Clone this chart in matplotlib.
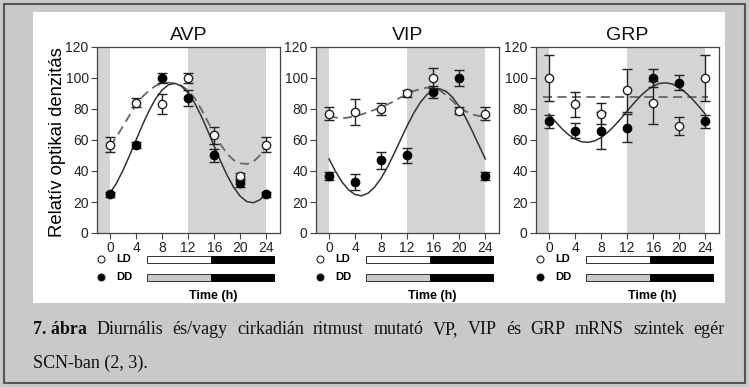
import matplotlib
matplotlib.use('Agg')
import matplotlib.pyplot as plt
from matplotlib.patches import Rectangle

# measured points (0-24 h), LD = open, DD = filled
hours = [0, 4, 8, 12, 16, 20, 24]
genes = ['AVP', 'VIP', 'GRP']

avp_ld = [57, 84, 83, 100, 63, 37, 57]
avp_ld_err = [5, 3, 6.5, 3, 5.5, 2, 5]
avp_dd = [25, 57, 100, 87, 50, 32, 25]
avp_dd_err = [1.5, 2, 3.5, 5, 4, 2.5, 1.5]

vip_ld = [77, 78, 80, 90, 100, 79, 77]
vip_ld_err = [4, 8.5, 4, 2, 6.5, 2.5, 4]
vip_dd = [37, 33, 47, 50, 91, 100, 37]
vip_dd_err = [2.5, 5, 5.5, 5, 4, 5, 2.5]

grp_ld = [100, 83, 77, 92, 84, 69, 100]
grp_ld_err = [15, 8, 7, 14, 14, 6, 15]
grp_dd = [72, 66, 66, 68, 100, 97, 72]
grp_dd_err = [4, 5, 12, 9, 6, 5, 4]

# fitted curves
fit_hours = list(range(25))
avp_ld_fit = [56, 62, 69, 76, 83, 88, 92, 95, 96.5, 97, 96.5, 95, 92, 87, 80, 72,
              64, 57, 51, 47, 45, 44.5, 46, 50, 56]
avp_dd_fit = [25.7, 32.2, 40.5, 50, 60, 69.9, 79, 86.6, 92.3, 95.7, 96.5, 94.6, 90.3,
              83.8, 75.5, 66, 56, 46.1, 37, 29.4, 23.7, 20.3, 19.5, 21.4, 25.7]
vip_ld_fit = [75.5, 74.5, 74, 74.5, 75.5, 76.5, 78, 79.5, 81, 83, 85, 87.5, 89.5,
              91.5, 93, 93.8, 93.5, 92, 89, 85, 81, 78.5, 76.5, 75.5, 75]
vip_dd_fit = [47.8, 39.7, 32.9, 27.8, 24.8, 24, 25.7, 29.6, 35.4, 42.8, 51.3, 60.3,
              69.2, 77.3, 84.1, 89.2, 92.2, 93, 91.3, 87.4, 81.6, 74.2, 65.7, 56.7, 47.8]
grp_ld_fit_hours = [-1, 24.4]
grp_ld_fit = [88, 88]
grp_dd_fit = [76.7, 71.8, 67.2, 63.4, 60.6, 58.9, 58.5, 59.4, 61.6, 64.9, 69, 73.7,
              78.7, 83.6, 88.2, 92, 94.8, 96.5, 96.9, 96, 93.8, 90.5, 86.4, 81.7, 76.7]

panels = [
    (avp_ld, avp_ld_err, avp_dd, avp_dd_err, fit_hours, avp_ld_fit, avp_dd_fit),
    (vip_ld, vip_ld_err, vip_dd, vip_dd_err, fit_hours, vip_ld_fit, vip_dd_fit),
    (grp_ld, grp_ld_err, grp_dd, grp_dd_err, grp_ld_fit_hours, grp_ld_fit, grp_dd_fit),
]

W, H = 749, 387
BG = '#c8c9cb'
SHADE = '#d3d4d6'
AXC = '#444444'

plt.rcParams['font.family'] = ['Liberation Sans', 'DejaVu Sans']

fig = plt.figure(figsize=(W / 100, H / 100), dpi=100, facecolor=BG)

# outer frame and white panel (pixel based, y from top)
def px_rect(x0, y0, x1, y1, **kw):
    r = Rectangle((x0 / W, 1 - y1 / H), (x1 - x0) / W, (y1 - y0) / H,
                  transform=fig.transFigure, zorder=-10, **kw)
    fig.add_artist(r)

px_rect(4, 4, 745, 383, facecolor='none', edgecolor='#555555', lw=1.5)
px_rect(33, 12, 725, 303, facecolor='white', edgecolor='none')

ax_left = [97, 316, 536]
ax_w, ax_top, ax_bot = 183, 47, 233

for i, (name, p) in enumerate(zip(genes, panels)):
    ld, ld_err, dd, dd_err, ld_fit_x, ld_fit, dd_fit = p
    ax = fig.add_axes([ax_left[i] / W, 1 - ax_bot / H, ax_w / W, (ax_bot - ax_top) / H])
    ax.patch.set_alpha(0)
    ax.set_xlim(-2, 26.1)
    ax.set_ylim(0, 120)
    ax.axvspan(-2, 0, color=SHADE, lw=0, zorder=0)
    ax.axvspan(12, 24, color=SHADE, lw=0, zorder=0)

    ax.plot(ld_fit_x, ld_fit, color='#666666', lw=1.3, ls=(0, (5, 3)), zorder=2)
    ax.plot(fit_hours, dd_fit, color='#333333', lw=1.1, zorder=2)

    ax.errorbar(hours, dd, yerr=dd_err, fmt='o', ms=6, mfc='black', mec='black',
                ecolor='#222222', elinewidth=1, capsize=3.5, capthick=1, zorder=3)
    ax.errorbar(hours, ld, yerr=ld_err, fmt='o', ms=6, mfc='white', mec='#222222',
                mew=1, ecolor='#222222', elinewidth=1, capsize=3.5, capthick=1, zorder=4)

    ax.set_xticks(range(0, 25, 4))
    ax.set_yticks(range(0, 121, 20))
    ax.tick_params(direction='out', length=4, width=0.8, color=AXC, labelsize=10,
                   pad=2, labelcolor='#222222')
    for s in ax.spines.values():
        s.set_color(AXC)
        s.set_linewidth(0.9)
    ax.set_title(name, fontsize=14, pad=5, color='#111111')

    # light/dark legend under each panel
    tr = ax.transAxes
    for yrow, lab, face, bar_left in [(-0.140, 'LD', 'white', 'white'),
                                      (-0.237, 'DD', 'black', '#c9c9c9')]:
        ax.plot([0.022], [yrow], 'o', ms=5, mfc=face, mec='#222222', mew=0.8,
                transform=tr, clip_on=False)
        ax.text(0.148, yrow, lab, transform=tr, ha='center', va='center',
                fontsize=8, fontweight='bold')
        h = 0.038
        ax.add_patch(Rectangle((0.273, yrow - h / 2), 0.623 - 0.273, h, transform=tr,
                               facecolor=bar_left, edgecolor='#333333', lw=0.7,
                               clip_on=False))
        ax.add_patch(Rectangle((0.623, yrow - h / 2), 0.967 - 0.623, h, transform=tr,
                               facecolor='black', edgecolor='black', lw=0.7,
                               clip_on=False))
    ax.text(0.634, -0.339, 'Time (h)', transform=tr, ha='center', va='center',
            fontsize=9, fontweight='bold')

fig.text(57 / W, 1 - 142 / H, 'Relatív optikai denzitás', rotation=90,
         ha='center', va='center', fontsize=13.3)

# caption, first line justified
serif = ['Liberation Serif', 'DejaVu Serif']
words = ['7. ábra', 'Diurnális', 'és/vagy', 'cirkadián', 'ritmust', 'mutató', 'VP,',
         'VIP', 'és', 'GRP', 'mRNS', 'szintek', 'egér']
renderer = fig.canvas.get_renderer()
cap_y = 1 - 330 / H
texts = []
for j, w in enumerate(words):
    t = fig.text(0, cap_y, w, family=serif, fontsize=13, va='center', ha='left',
                 fontweight='bold' if j == 0 else 'normal', color='#111111')
    texts.append(t)
widths = [t.get_window_extent(renderer).width for t in texts]
x0, x1 = 33, 725
gap = (x1 - x0 - sum(widths)) / (len(words) - 1)
x = x0
for t, wd in zip(texts, widths):
    t.set_x(x / W)
    x += wd + gap
fig.text(33 / W, 1 - 363 / H, 'SCN-ban (2, 3).', family=serif, fontsize=13,
         va='center', ha='left', color='#111111')

fig.savefig('out.png', dpi=100, facecolor=BG)
